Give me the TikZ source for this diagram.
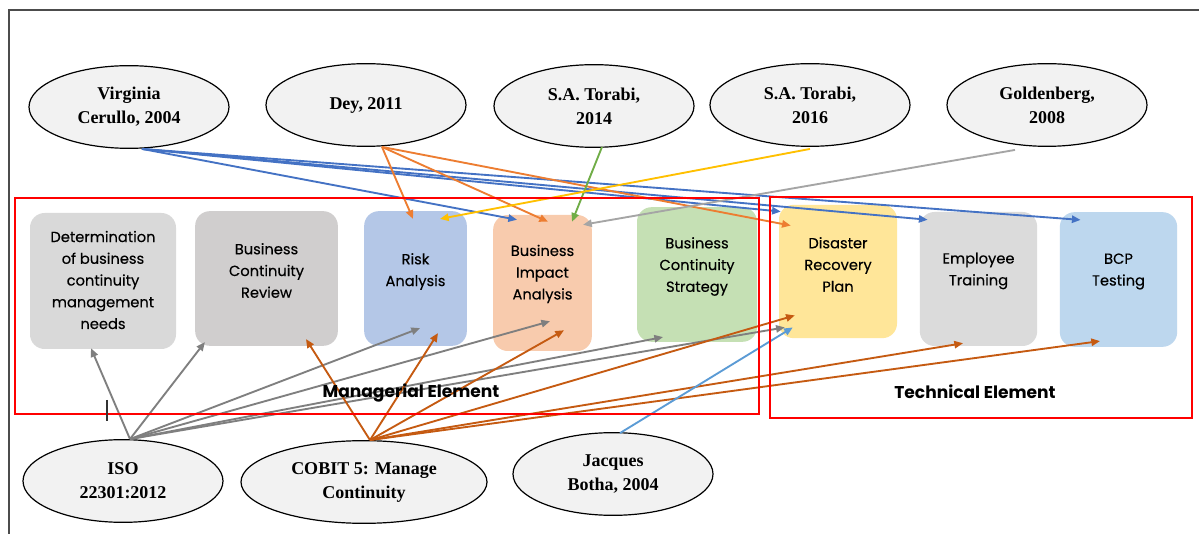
\documentclass[tikz,border=0pt]{standalone}
\usepackage{fontspec}
\setmainfont{Liberation Serif}
\newfontfamily\stagefont{Poppins}[FakeBold=0.3]
\newfontfamily\elemfont{Poppins}
\usetikzlibrary{shapes.geometric,arrows.meta,calc}

\definecolor{refgray}{HTML}{F2F2F2}
\definecolor{detgray}{HTML}{D9D9D9}
\definecolor{bcrgray}{HTML}{D0CECE}
\definecolor{riskblue}{HTML}{B4C7E7}
\definecolor{biaorange}{HTML}{F8CBAD}
\definecolor{bcsgreen}{HTML}{C5E0B4}
\definecolor{drpyellow}{HTML}{FFE699}
\definecolor{empgray}{HTML}{DBDBDB}
\definecolor{bcpblue}{HTML}{BDD7EE}
\definecolor{cerblue}{HTML}{4472C4}
\definecolor{deyorange}{HTML}{ED7D31}
\definecolor{torgreen}{HTML}{70AD47}
\definecolor{toryellow}{HTML}{FFC000}
\definecolor{goldgray}{HTML}{A5A5A5}
\definecolor{isogray}{HTML}{7F7F7F}
\definecolor{cobitbrown}{HTML}{C55A11}
\definecolor{bothablue}{HTML}{5B9BD5}

\begin{document}
\begin{tikzpicture}[x=0.75pt,y=-0.75pt,
    ref/.style={ellipse,draw=black,line width=0.9pt,fill=refgray,inner sep=0pt,
      minimum width=150pt,minimum height=62pt,align=center,
      font=\fontsize{13.5}{18}\selectfont\bfseries},
    stage/.style={rectangle,rounded corners=11pt,inner sep=0pt},
    stagetext/.style={align=center,font=\stagefont\fontsize{11}{16.3}\selectfont},
    elemtext/.style={font=\elemfont\bfseries\fontsize{12.8}{15}\selectfont},
    element/.style={draw=red,line width=1.5pt},
    link/.style={line width=1.4pt,-{Triangle[length=6.5pt,width=5.5pt]}}]

    \useasboundingbox (0,0) rectangle (1199,534);
    \fill[white] (0,0) rectangle (1199,534);
    \draw[black!70,line width=1.1pt] (9,534) -- (9,10) -- (1199,10);

    \node[stage,fill=detgray,minimum width=109.5pt,minimum height=102pt] (det) at (103,281) {};
    \node[stage,fill=bcrgray,minimum width=107pt,minimum height=101pt] (bcr) at (266.5,278.5) {};
    \node[stage,fill=riskblue,minimum width=77pt,minimum height=101pt] (risk) at (415.5,278.5) {};
    \node[stage,fill=biaorange,minimum width=74pt,minimum height=102pt] (bia) at (542.5,283) {};
    \node[stage,fill=bcsgreen,minimum width=90pt,minimum height=101pt] (bcs) at (697,274.5) {};
    \node[stage,fill=drpyellow,minimum width=88.5pt,minimum height=100pt] (drp) at (838,271.5) {};
    \node[stage,fill=empgray,minimum width=88pt,minimum height=100.5pt] (emp) at (978.5,279) {};
    \node[stage,fill=bcpblue,minimum width=88pt,minimum height=101pt] (bcp) at (1118.5,279.5) {};

    \node[stagetext] (dettext) at ($(det)+(0,-1)$) {Determination\\of business\\continuity\\management\\needs};
    \node[stagetext] (bcrtext) at ($(bcr)+(0,-8)$) {Business\\Continuity\\Review};
    \node[stagetext] (risktext) at ($(risk)+(0,-7)$) {Risk\\Analysis};
    \node[stagetext] (biatext) at ($(bia)+(0,-9)$) {Business\\Impact\\Analysis};
    \node[stagetext] (bcstext) at ($(bcs)+(0,-8)$) {Business\\Continuity\\Strategy};
    \node[stagetext] (drptext) at ($(drp)+(0,-7)$) {Disaster\\Recovery\\Plan};
    \node[stagetext] (emptext) at ($(emp)+(0,-8)$) {Employee\\Training};
    \node[stagetext] (bcptext) at ($(bcp)+(0,-8)$) {BCP\\Testing};

    \node[ref] (cerullo) at (129,107) {Virginia\\Cerullo, 2004};
    \node[ref] (dey) at (366,105) {Dey, 2011};
    \node[ref] (torabi14) at (594,106) {S.A. Torabi,\\2014};
    \node[ref] (torabi16) at (810,105) {S.A. Torabi,\\2016};
    \node[ref] (goldenberg) at (1047,105) {Goldenberg,\\2008};
    \node[ref] (iso) at (123,481) {ISO\\22301:2012};
    \node[ref,minimum width=184.5pt] (cobit) at (364,482) {COBIT 5: Manage\\Continuity};
    \node[ref] (botha) at (613,474) {Jacques\\Botha, 2004};

    \draw[link,cerblue] ($(cerullo.south)+(13,0)$) -- ($(bia.north)+(-25.5,5)$);
    \draw[link,cerblue] ($(cerullo.south)+(13,0)$) -- ($(drp.north west)+(2,7)$);
    \draw[link,cerblue] ($(cerullo.south)+(13,0)$) -- ($(emp.north west)+(8,8)$);
    \draw[link,cerblue] ($(cerullo.south)+(13,0)$) -- ($(bcp.north west)+(21,8)$);

    \draw[link,deyorange] ($(dey.south)+(16,0)$) -- ($(risk.north)+(-2.5,8)$);
    \draw[link,deyorange] ($(dey.south)+(16,0)$) -- ($(bia.north)+(5.5,7)$);
    \draw[link,deyorange] ($(dey.south)+(16,0)$) -- ($(drp.north west)+(12,21)$);

    \draw[link,torgreen] ($(torabi14.south)+(8,-1)$) -- ($(bia.north)+(29.5,7)$);
    \draw[link,toryellow] ($(torabi16.south)+(0,2)$) -- ($(risk.north)+(24.5,8)$);
    \draw[link,goldgray] ($(goldenberg.south)+(-32,3)$) -- ($(bia.north east)+(-9,10)$);

    \draw[link,isogray] ($(iso.north)+(7,0)$) -- ($(det.south)+(-12,-1)$);
    \draw[link,isogray] ($(iso.north)+(7,0)$) -- ($(bcr.south west)+(10,-4)$);
    \draw[link,isogray] ($(iso.north)+(7,0)$) -- ($(risk.south)+(4.5,-18)$);
    \draw[link,isogray] ($(iso.north)+(7,0)$) -- ($(bia.south)+(7.5,-30)$);
    \draw[link,isogray] ($(iso.north)+(7,0)$) -- ($(bcs.south)+(-34,-5)$);
    \draw[link,isogray] ($(iso.north)+(7,0)$) -- ($(drp.south west)+(6,-11)$);

    \draw[link,cobitbrown] ($(cobit.north)+(6,0)$) -- ($(bcr.south)+(39.5,-7)$);
    \draw[link,cobitbrown] ($(cobit.north)+(6,0)$) -- ($(risk.south)+(22.5,-13)$);
    \draw[link,cobitbrown] ($(cobit.north)+(6,0)$) -- ($(bia.south)+(21.5,-21)$);
    \draw[link,cobitbrown] ($(cobit.north)+(6,0)$) -- ($(drp.south west)+(16,-23)$);
    \draw[link,cobitbrown] ($(cobit.north)+(6,0)$) -- ($(emp.south)+(-15.5,-3)$);
    \draw[link,cobitbrown] ($(cobit.north)+(6,0)$) -- ($(bcp.south)+(-18.5,-6)$);

    \draw[link,bothablue] ($(botha.north)+(7,1)$) -- ($(drp.south west)+(14,-11)$);

    \draw[element] (14.6,198) rectangle (759,414);
    \draw[element] (770,197) rectangle (1192,418);
    \draw[black!80,line width=0.8pt] (107,400) -- (107,421);

    \node[elemtext] (managerial) at (411,393) {Managerial Element};
    \node[elemtext] (technical) at (975,392) {Technical Element};
\end{tikzpicture}
\end{document}
